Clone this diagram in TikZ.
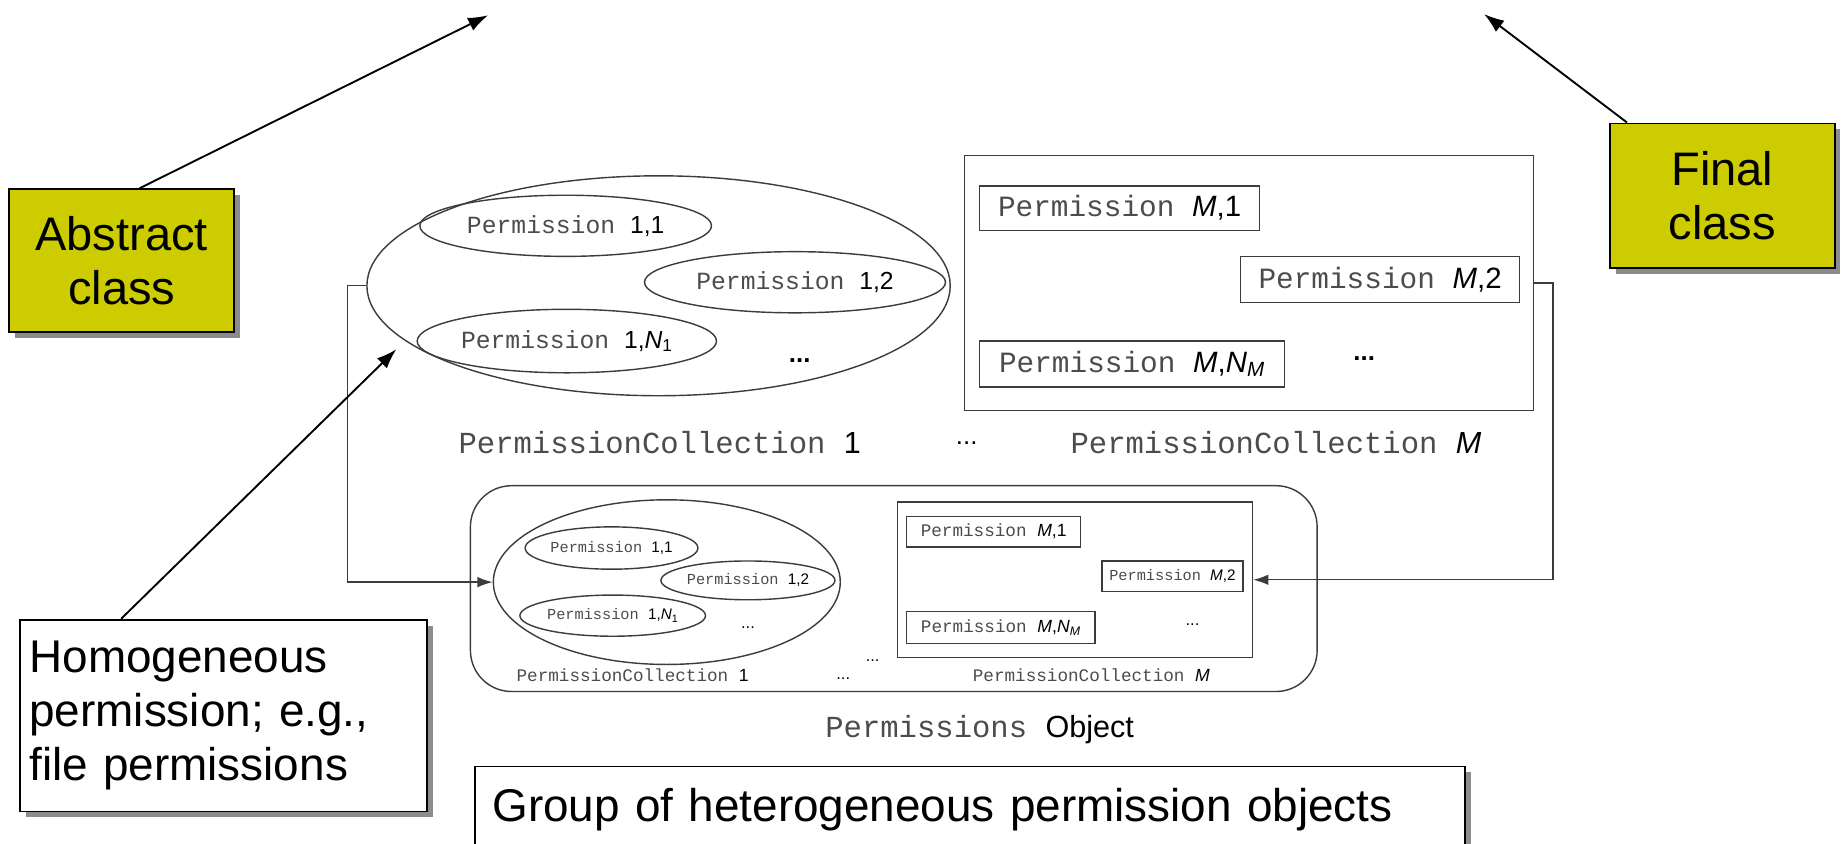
\documentclass[tikz,border=0pt]{standalone}
\usepackage{fontspec}
\setmainfont{Liberation Sans}
\setmonofont{Liberation Mono}
\usetikzlibrary{shapes.geometric,arrows.meta,shadows}
\definecolor{classyellow}{RGB}{204,204,0}
\definecolor{lineg}{RGB}{60,60,60}
\newcommand\permw{\textcolor{black!70}{\texttt{Permission }}}
\newcommand\pcoll{\textcolor{black!70}{\texttt{PermissionCollection }}}
\newcommand\fs[1]{\fontsize{#1}{#1}\selectfont}
\tikzset{
  callout/.style={draw=black, line width=1.6pt, fill=classyellow,
    drop shadow={shadow xshift=5pt,shadow yshift=-5pt,fill=black!45,opacity=1},
    font=\fontsize{40}{46}\selectfont, align=center, inner sep=0pt},
  note/.style={draw=black, line width=1.6pt, fill=white,
    drop shadow={shadow xshift=5pt,shadow yshift=-5pt,fill=black!45,opacity=1},
    font=\fontsize{39}{46}\selectfont, align=left, inner sep=0pt},
  pell/.style={ellipse, draw=lineg, line width=1.2pt, inner sep=0pt, text=black},
  pbox/.style={draw=lineg, line width=1.2pt, inner sep=0pt, text=black},
  conn/.style={draw=lineg, line width=1.2pt, -{Latex[length=13pt,width=9pt]}},
  ptr/.style={draw=black, line width=1.6pt, -{Latex[length=17pt,width=12pt]}},
  lbl/.style={inner sep=0pt, text=black},
}
\begin{document}
\begin{tikzpicture}[x=1pt,y=-1pt]
\clip (0,0) rectangle (1568,717);
\fill[white] (0,0) rectangle (1568,717);

% ---------- top: PermissionCollection 1 ----------
\node[pell, minimum width=496, minimum height=187] (pc1) at (560,243) {};
\node[pell, minimum width=248, minimum height=52] (e11) at (481,192) {\fs{21}\permw 1,1};
\node[pell, minimum width=256, minimum height=52] (e12) at (676,240) {\fs{21}\permw 1,2};
\node[pell, minimum width=250, minimum height=54] (e1n) at (482,290) {\fs{21}\permw 1,\textit{N}\textsubscript{1}};
\node[lbl] (dots1) at (680,307) {\fs{22}\textbf{...}};

% ---------- top: PermissionCollection M ----------
\node[pbox, minimum width=484, minimum height=217] (pcm) at (1062,240.5) {};
\node[pbox, minimum width=238, minimum height=38] (bm1) at (952,177) {\fs{25}\permw\textit{M},1};
\node[pbox, minimum width=237, minimum height=39] (bm2) at (1173.5,237.5) {\fs{25}\permw\textit{M},2};
\node[pbox, minimum width=259, minimum height=39] (bmn) at (962.5,309.5) {\fs{25}\permw\textit{M},\textit{N}\textsubscript{\textit{M}}};
\node[lbl] (dotsm) at (1160,305) {\fs{22}\textbf{...}};

\node[lbl] (lpc1) at (561,376) {\fs{26}\pcoll 1};
\node[lbl] (ldots) at (822,377) {\fs{22}...};
\node[lbl] (lpcm) at (1085,376) {\fs{26}\pcoll\textit{M}};

% ---------- bottom: Permissions object ----------
\node[draw=lineg, line width=1.2pt, rounded corners=35pt, minimum width=720, minimum height=175] (po) at (760,500.5) {};
\node[pell, minimum width=295, minimum height=140] (pe) at (567,495) {};
\node[pell, minimum width=144, minimum height=36] (pe11) at (520,466) {\fs{13}\permw 1,1};
\node[pell, minimum width=148, minimum height=33] (pe12) at (636,493.5) {\fs{13}\permw 1,2};
\node[pell, minimum width=146, minimum height=35] (pe1n) at (521,523.5) {\fs{13}\permw 1,\textit{N}\textsubscript{1}};
\node[lbl] (pdots1) at (636,534) {\fs{14}...};
\node[lbl] (lpe) at (538,574) {\fs{15}\pcoll 1};
\node[lbl] (pdotsa) at (717,577) {\fs{14}...};
\node[lbl] (pdotsb) at (742,562) {\fs{14}...};

\node[pbox, minimum width=302, minimum height=132] (pmi) at (914,493) {};
\node[pbox, minimum width=148, minimum height=26] (pm1) at (845,452) {\fs{15}\permw\textit{M},1};
\node[pbox, minimum width=120, minimum height=26] (pm2) at (997,490) {\fs{13}\permw\textit{M},2};
\node[pbox, minimum width=160, minimum height=27] (pmn) at (851,533.5) {\fs{15}\permw\textit{M},\textit{N}\textsubscript{\textit{M}}};
\node[lbl] (pdotsm) at (1014,531) {\fs{14}...};
\node[lbl] (lpm) at (928,574) {\fs{15}\pcoll\textit{M}};

\node[lbl] (pobj) at (833,620) {\fs{26}\textcolor{black!70}{\texttt{Permissions }}Object};

% ---------- connectors ----------
\draw[conn] (pc1.west) -- ++(-16,0) |- (pe.west);
\draw[conn] (pcm.east) -- ++(16,0) |- (pmi.east);

% ---------- callouts ----------
\node[callout, minimum width=191, minimum height=121] (abstract) at (103.5,221.5) {Abstract\\class};
\node[callout, minimum width=191, minimum height=123] (final) at (1464.5,166.5) {Final\\class};
\node[note, minimum width=346, minimum height=163, text width=330, inner xsep=8pt] (homo) at (190,608.5) {Homogeneous\\permission; e.g.,\\file permissions};
\node[note, anchor=north west, minimum width=842, minimum height=74, text width=812, inner xsep=15pt] (group) at (403,651) {Group of heterogeneous permission objects};

\coordinate (abtip) at (415,13);
\coordinate (fntip) at (1262,12);
\coordinate (hotip) at (337,297);
\draw[ptr] ([xshift=15pt]abstract.north) -- (abtip);
\draw[ptr] ([xshift=-81pt]final.north) -- (fntip);
\draw[ptr] ([xshift=-87pt]homo.north) -- (hotip);
\end{tikzpicture}
\end{document}
